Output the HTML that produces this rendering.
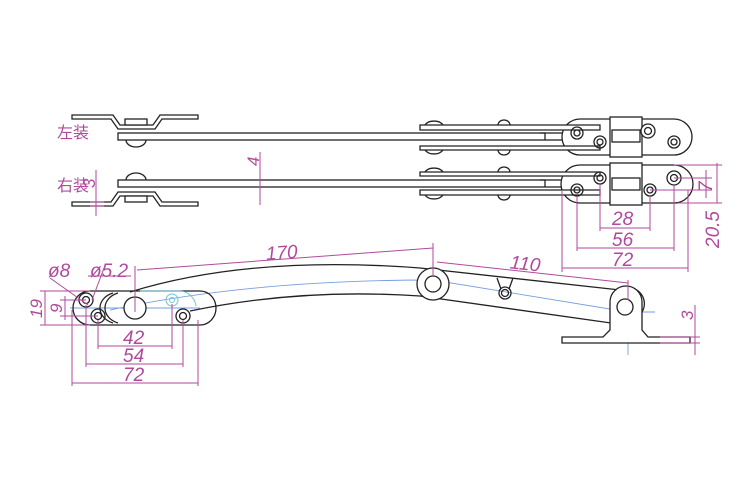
<!DOCTYPE html>
<html><head><meta charset="utf-8"><style>
html,body{margin:0;padding:0;background:#fff;}
svg{display:block;}
text{font-family:"Liberation Sans","Noto Sans CJK SC",sans-serif;fill:#b04a9c;font-style:italic;}
text.cn{font-style:normal;}
.k{fill:none;stroke:#222;stroke-width:1.3;}
.kf{fill:#fff;stroke:#222;stroke-width:1.3;}
.m{fill:none;stroke:#b04a9c;stroke-width:1;}
.b{fill:none;stroke:#7a9ee0;stroke-width:0.9;}
.c{fill:none;stroke:#6cc7d8;stroke-width:1;}
</style></head><body>
<svg width="750" height="500" viewBox="0 0 750 500" xmlns="http://www.w3.org/2000/svg">
<rect width="750" height="500" fill="#fff"/>
<!-- TOP: 左装 -->
<text class="cn" x="57" y="138" font-size="16">左装</text>
<path class="k" d="M72 115 H113 L120 125 H153 L160 115 H198 V119 H162 L155 129 H118 L111 119 H72 Z"/>
<rect class="kf" x="125" y="119" width="22" height="6"/>
<rect class="kf" x="118" y="133" width="445" height="7"/>
<path class="k" d="M126 140 A10 7 0 0 0 146 140"/>
<path class="kf" d="M580 119 H674 A18 18 0 0 1 674 155 H580 A18 18 0 0 1 580 119 Z"/>
<rect class="kf" x="610" y="117" width="32" height="40"/>
<rect class="k" x="612" y="130" width="28" height="12"/>
<path class="kf" d="M420 125 H600 V130 H420 Z"/>
<path class="kf" d="M420 146 H600 V150 H420 Z"/>
<path class="k" d="M540 133 H545 V140"/>
<path class="k" d="M425 125 A10 7 0 0 1 443 125 M425 150 A10 7 0 0 0 443 150"/>
<path class="k" d="M498 125 A6 5 0 0 1 510 125 M498 150 A6 5 0 0 0 510 150"/>
<circle class="k" cx="577" cy="133" r="6"/><circle class="k" cx="577" cy="133" r="3"/>
<circle class="k" cx="600" cy="142" r="6"/><circle class="k" cx="600" cy="142" r="3"/>
<circle class="kf" cx="648" cy="131" r="7"/><circle class="k" cx="648" cy="131" r="3.5"/>
<circle class="k" cx="674" cy="142" r="6"/><circle class="k" cx="674" cy="142" r="3"/>
<!-- BOTTOM: 右装 -->
<text class="cn" x="57" y="191" font-size="16">右装</text>
<path class="k" d="M72 206 H113 L120 196 H153 L160 206 H198 V202 H162 L155 192 H118 L111 202 H72 Z"/>
<rect class="kf" x="125" y="196" width="22" height="6"/>
<rect class="kf" x="118" y="180" width="445" height="7"/>
<path class="k" d="M126 180 A10 7 0 0 1 146 180"/>
<path class="kf" d="M580 165 H674 A18 18 0 0 1 674 203 H580 A18 18 0 0 1 580 165 Z"/>
<rect class="kf" x="610" y="163" width="32" height="42"/>
<rect class="k" x="612" y="178" width="28" height="12"/>
<path class="kf" d="M420 172 H600 V176 H420 Z"/>
<path class="kf" d="M420 190 H600 V195 H420 Z"/>
<path class="k" d="M540 180 H545 V187"/>
<path class="k" d="M425 172 A10 7 0 0 1 443 172 M425 195 A10 7 0 0 0 443 195"/>
<path class="k" d="M498 172 A6 5 0 0 1 510 172 M498 195 A6 5 0 0 0 510 195"/>
<circle class="k" cx="577" cy="190" r="6"/><circle class="k" cx="577" cy="190" r="3"/>
<circle class="k" cx="600" cy="178" r="6"/><circle class="k" cx="600" cy="178" r="3"/>
<circle class="k" cx="650" cy="190" r="6"/><circle class="k" cx="650" cy="190" r="3"/>
<circle class="k" cx="674" cy="178" r="7"/><circle class="k" cx="674" cy="178" r="3.5"/>
<!-- dims top -->
<path class="m" d="M96 170 V216 M90 202 H104 M90 206 H104"/>
<text x="0" y="0" font-size="17" transform="translate(95,188) rotate(-90)">3</text>
<path class="m" d="M260 152 V205"/>
<text x="0" y="0" font-size="17" transform="translate(259,166) rotate(-90)">4</text>
<path class="m" d="M600 184 V231 M650 196 V231 M600 228 H650"/>
<text x="612" y="225" font-size="19">28</text>
<path class="m" d="M577 196 V251 M674 184 V251 M577 248 H674"/>
<text x="612" y="246" font-size="19">56</text>
<path class="m" d="M562 190 V272 M688 190 V272 M562 268 H688"/>
<text x="612" y="266" font-size="19">72</text>
<path class="m" d="M674 165 H722 M678 203 H722 M674 178 H712 M650 190 H712 M717 163 V203 M706 170 V198"/>
<text x="0" y="0" font-size="19" transform="translate(712,192) rotate(-90)">7</text>
<text x="0" y="0" font-size="19" transform="translate(719,248) rotate(-90)">20.5</text>
<!-- SIDE VIEW -->
<path class="b" d="M70 308 H200 M110 310 Q250 280 433 280 L628 312 H655"/>
<path class="b" d="M433 300 V260 M628 290 V355"/>
<path class="k" d="M90 291 H200 A16 17 0 0 1 200 325 H90 A17 17 0 0 1 90 291 Z"/>
<path class="k" d="M113 293 A20 16 0 0 0 113 323 M118 293 A20 16 0 0 0 118 323"/>
<path class="k" d="M130 292 Q250 255 420 268 L620 290 A16 16 0 0 1 642 312 L625 325 L420 296 Q300 288 190 311"/>
<path class="c" d="M140 291 H180 A17 17 0 0 1 196 306"/>
<circle class="kf" cx="433" cy="284" r="16"/><circle class="k" cx="433" cy="284" r="8"/>
<path class="k" d="M497 278 L501 289 M513 278 L509 289"/>
<circle class="k" cx="505" cy="293" r="6"/><circle class="k" cx="505" cy="293" r="3.5"/>
<path class="kf" d="M562 337 H603 L610 330 V302 A16 16 0 0 1 642 302 V330 L648 337 H690 V343 H562 Z"/>
<circle class="kf" cx="625" cy="307" r="8"/>
<circle class="kf" cx="135" cy="308" r="11"/>
<circle class="k" cx="86" cy="300" r="7"/><circle class="k" cx="86" cy="300" r="3.5"/>
<circle class="k" cx="98" cy="316" r="7"/><circle class="k" cx="98" cy="316" r="3.5"/>
<circle class="c" cx="172" cy="300" r="6"/><circle class="c" cx="172" cy="300" r="2.5"/>
<circle class="k" cx="183" cy="316" r="7"/><circle class="k" cx="183" cy="316" r="3.5"/>
<!-- side dims -->
<path class="m" d="M135 312 V266 M433 275 V243 M137 270 L433 248"/>
<text x="266" y="259" font-size="19" transform="rotate(-4 280 255)">170</text>
<path class="m" d="M628 300 V280 M437 262 L628 283"/>
<text x="510" y="270" font-size="19" transform="rotate(6 525 265)">110</text>
<path class="m" d="M98 320 V349 M172 304 V349 M98 346 H172"/>
<text x="123" y="344" font-size="19">42</text>
<path class="m" d="M86 305 V367 M183 320 V367 M86 364 H183"/>
<text x="123" y="362" font-size="19">54</text>
<path class="m" d="M72 310 V386 M198 320 V386 M72 383 H198"/>
<text x="123" y="381" font-size="19">72</text>
<path class="m" d="M40 291 H90 M40 325 H90 M45 291 V325 M60 300 H86 M60 316 H98 M65 296 V320"/>
<text x="0" y="0" font-size="17" transform="translate(42,318) rotate(-90)">19</text>
<text x="0" y="0" font-size="17" transform="translate(62,313) rotate(-90)">9</text>
<path class="m" d="M50 278 L88 305 M92 300 L104 268 M88 276 H131"/>
<text x="48" y="277" font-size="19">ø8</text>
<text x="90" y="277" font-size="19">ø5.2</text>
<path class="m" d="M660 337 H700 M660 343 H700 M695 305 V355"/>
<text x="0" y="0" font-size="17" transform="translate(693,320) rotate(-90)">3</text>
</svg>
</body></html>
